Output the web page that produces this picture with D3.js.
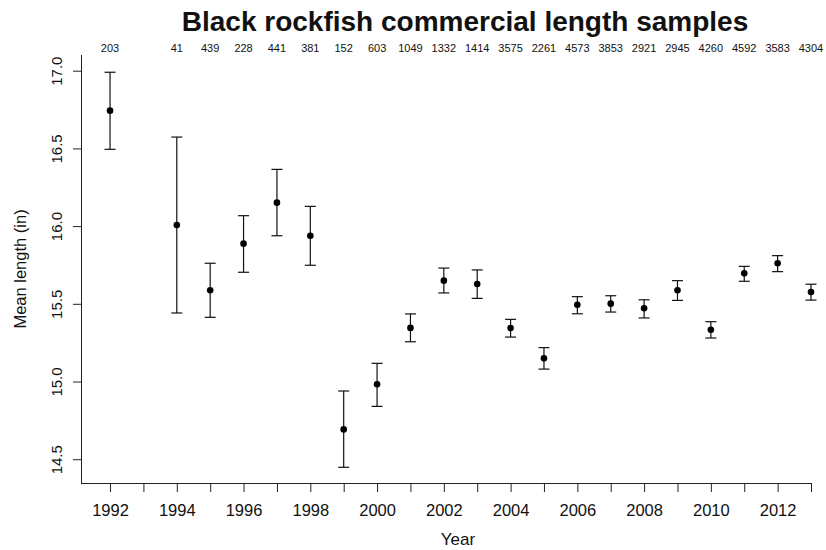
<!DOCTYPE html>
<html>
<head>
<meta charset="utf-8">
<script src="https://cdn.jsdelivr.net/npm/d3@7"></script>
<style>
  body { margin: 0; background: #fff; }
  text { font-family: "Liberation Sans", Arial, sans-serif; fill: #111; }
</style>
</head>
<body>
<script>
var width = 826;
var height = 550;

// data
var years   = [1992, 1994, 1995, 1996, 1997, 1998, 1999, 2000, 2001, 2002, 2003,
               2004, 2005, 2006, 2007, 2008, 2009, 2010, 2011, 2012, 2013];
var means   = [16.743, 16.007, 15.587, 15.887, 16.151, 15.938, 14.692, 14.982, 15.345, 15.649, 15.627,
               15.344, 15.149, 15.494, 15.501, 15.471, 15.587, 15.333, 15.696, 15.761, 15.576];
var uppers  = [16.990, 16.573, 15.761, 16.067, 16.365, 16.127, 14.939, 15.117, 15.435, 15.730, 15.718,
               15.400, 15.218, 15.546, 15.552, 15.526, 15.649, 15.385, 15.741, 15.810, 15.626];
var lowers  = [16.494, 15.441, 15.413, 15.703, 15.938, 15.748, 14.448, 14.840, 15.256, 15.570, 15.535,
               15.286, 15.080, 15.436, 15.447, 15.409, 15.522, 15.280, 15.645, 15.707, 15.524];
var sampleN = [203, 41, 439, 228, 441, 381, 152, 603, 1049, 1332, 1414,
               3575, 2261, 4573, 3853, 2921, 2945, 4260, 4592, 3583, 4304];
var yTicks  = [14.5, 15.0, 15.5, 16.0, 16.5, 17.0];
var xTicks  = d3.range(1992, 2014);

// plot region edges (top is a reserved global, so use a prefix)
var plotL = 81, plotR = 811, plotT = 55, plotB = 483;

var svg = d3.select('body').append('svg').attr('width', width).attr('height', height);

var x = d3.scaleLinear().domain([1991.13, 2013]).range([plotL, plotR]);
var y = d3.scaleLinear().domain([14.347, 17.101]).range([plotB, plotT]);

// title
svg.append('text')
  .attr('x', 465).attr('y', 31)
  .attr('text-anchor', 'middle')
  .style('font-size', '28px').style('font-weight', 'bold')
  .text('Black rockfish commercial length samples');

// x axis
var xAxis = d3.axisBottom(x).tickValues(xTicks).tickSize(9)
  .tickFormat(function (d) { return d % 2 == 0 ? d : ''; });
var gx = svg.append('g').attr('transform', 'translate(0,' + plotB + ')').call(xAxis);
gx.select('.domain').attr('d', 'M' + plotL + ',0.5H' + x(2013));
gx.selectAll('text').style('font-size', '16.5px').attr('dy', '1.25em').attr('fill', '#111');

// y axis, labels rotated like R
var yAxis = d3.axisLeft(y).tickValues(yTicks).tickSize(8).tickFormat(d3.format('.1f'));
var gy = svg.append('g').attr('transform', 'translate(' + plotL + ',0)').call(yAxis);
gy.select('.domain').attr('d', 'M0.5,' + plotT + 'V' + plotB);
gy.selectAll('.tick text')
  .attr('x', null).attr('dy', null)
  .attr('text-anchor', 'middle')
  .attr('transform', 'translate(-19,0) rotate(-90)')
  .style('font-size', '15px').attr('fill', '#111');
svg.selectAll('.domain, .tick line').attr('stroke', '#222');

// axis titles
svg.append('text')
  .attr('x', 458).attr('y', 545)
  .attr('text-anchor', 'middle')
  .style('font-size', '17px')
  .text('Year');
svg.append('text')
  .attr('transform', 'translate(26,269) rotate(-90)')
  .attr('text-anchor', 'middle')
  .style('font-size', '16.5px')
  .text('Mean length (in)');

// sample sizes along the top
svg.append('g').selectAll('text')
  .data(years)
  .enter().append('text')
  .attr('x', function (d) { return x(d); })
  .attr('y', 52)
  .attr('text-anchor', 'middle')
  .style('font-size', '11px')
  .text(function (d, i) { return sampleN[i]; });

// error bars
var bars = svg.append('g').selectAll('g')
  .data(years)
  .enter().append('g');
bars.append('line')
  .attr('x1', function (d) { return x(d); })
  .attr('x2', function (d) { return x(d); })
  .attr('y1', function (d, i) { return y(uppers[i]); })
  .attr('y2', function (d, i) { return y(lowers[i]); })
  .attr('stroke', '#111').attr('stroke-width', 1.2);
bars.append('line')
  .attr('x1', function (d) { return x(d) - 5.5; })
  .attr('x2', function (d) { return x(d) + 5.5; })
  .attr('y1', function (d, i) { return y(uppers[i]); })
  .attr('y2', function (d, i) { return y(uppers[i]); })
  .attr('stroke', '#111').attr('stroke-width', 1.2);
bars.append('line')
  .attr('x1', function (d) { return x(d) - 5.5; })
  .attr('x2', function (d) { return x(d) + 5.5; })
  .attr('y1', function (d, i) { return y(lowers[i]); })
  .attr('y2', function (d, i) { return y(lowers[i]); })
  .attr('stroke', '#111').attr('stroke-width', 1.2);
bars.append('circle')
  .attr('cx', function (d) { return x(d); })
  .attr('cy', function (d, i) { return y(means[i]); })
  .attr('r', 3.3)
  .attr('fill', '#000');
</script>
</body>
</html>
